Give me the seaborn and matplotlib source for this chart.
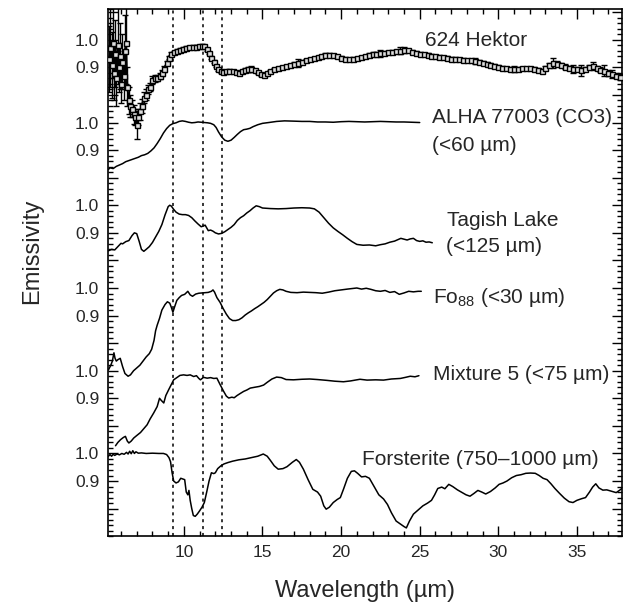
import matplotlib
matplotlib.use("Agg")
import matplotlib.pyplot as plt
from matplotlib.ticker import FixedLocator, FixedFormatter, MultipleLocator
import seaborn as sns

# 624 Hektor (telescope spectrum, 1-sigma error bars)
hektor_wl = [5.25, 5.32, 5.40, 5.47, 5.55, 5.62, 5.70, 5.78, 5.85, 5.93,
             6.00, 6.08, 6.16, 6.24, 6.32, 6.40, 6.50, 6.60, 6.70, 6.80,
             6.90, 7.00, 7.10, 7.20, 7.32, 7.45, 7.58, 7.70, 7.85, 8.00,
             8.15, 8.30, 8.45, 8.60, 8.75, 8.90, 9.05, 9.20, 9.35, 9.55,
             9.75, 9.95, 10.15, 10.35, 10.55, 10.75, 10.95, 11.15, 11.30, 11.45,
             11.60, 11.75, 11.90, 12.05, 12.20, 12.35, 12.50, 12.70, 12.90, 13.10,
             13.30, 13.50, 13.70, 13.90, 14.10, 14.30, 14.50, 14.70, 14.90, 15.10,
             15.30, 15.50, 15.75, 16.00, 16.25, 16.50, 16.75, 17.00, 17.25, 17.50,
             17.75, 18.00, 18.25, 18.50, 18.75, 19.00, 19.25, 19.50, 19.75, 20.00,
             20.25, 20.50, 20.75, 21.00, 21.25, 21.50, 21.75, 22.00, 22.25, 22.50,
             22.75, 23.00, 23.25, 23.50, 23.75, 24.00, 24.25, 24.50, 24.75, 25.00,
             25.25, 25.50, 25.75, 26.00, 26.25, 26.50, 26.75, 27.00, 27.25, 27.50,
             27.75, 28.00, 28.25, 28.50, 28.75, 29.00, 29.25, 29.50, 29.75, 30.00,
             30.25, 30.50, 30.75, 31.00, 31.25, 31.50, 31.75, 32.00, 32.25, 32.50,
             32.75, 33.00, 33.25, 33.50, 33.75, 34.00, 34.25, 34.50, 34.75, 35.00,
             35.25, 35.50, 35.75, 36.00, 36.25, 36.50, 36.75, 37.00, 37.25, 37.50,
             37.75]
hektor_em = [0.930, 0.970, 0.910, 0.990, 0.880, 0.950, 0.860, 0.980, 0.900, 0.940,
             0.840, 0.920, 0.870, 0.960, 0.990, 0.830, 0.780, 0.760, 0.750, 0.730,
             0.720, 0.690, 0.720, 0.740, 0.760, 0.790, 0.800, 0.820, 0.830, 0.855,
             0.860, 0.862, 0.868, 0.880, 0.895, 0.915, 0.935, 0.950, 0.955, 0.960,
             0.964, 0.968, 0.972, 0.974, 0.975, 0.975, 0.977, 0.979, 0.976, 0.966,
             0.952, 0.935, 0.920, 0.905, 0.893, 0.886, 0.884, 0.886, 0.888, 0.887,
             0.883, 0.880, 0.886, 0.892, 0.893, 0.894, 0.889, 0.882, 0.875, 0.872,
             0.878, 0.886, 0.893, 0.897, 0.900, 0.904, 0.908, 0.913, 0.916, 0.920,
             0.925, 0.929, 0.933, 0.937, 0.941, 0.944, 0.946, 0.944, 0.940, 0.935,
             0.931, 0.929, 0.931, 0.934, 0.938, 0.941, 0.945, 0.948, 0.950, 0.951,
             0.953, 0.955, 0.957, 0.958, 0.961, 0.963, 0.962, 0.957, 0.953, 0.950,
             0.947, 0.945, 0.942, 0.940, 0.938, 0.936, 0.934, 0.932, 0.931, 0.929,
             0.928, 0.926, 0.925, 0.923, 0.921, 0.917, 0.913, 0.909, 0.905, 0.902,
             0.899, 0.897, 0.895, 0.894, 0.895, 0.896, 0.897, 0.897, 0.895, 0.892,
             0.888, 0.897, 0.908, 0.915, 0.914, 0.908, 0.903, 0.897, 0.893, 0.894,
             0.890, 0.895, 0.902, 0.904, 0.898, 0.892, 0.888, 0.880, 0.876, 0.870,
             0.866]
hektor_err = [0.12, 0.14, 0.12, 0.13, 0.10, 0.12, 0.10, 0.14, 0.09, 0.12,
              0.07, 0.10, 0.09, 0.13, 0.15, 0.07, 0.05, 0.04, 0.03, 0.035,
              0.03, 0.05, 0.03, 0.03, 0.025, 0.02, 0.02, 0.015, 0.015, 0.015,
              0.012, 0.012, 0.010, 0.010, 0.010, 0.008, 0.006, 0.006, 0.005, 0.005,
              0.005, 0.005, 0.005, 0.005, 0.005, 0.005, 0.005, 0.005, 0.005, 0.005,
              0.005, 0.005, 0.005, 0.005, 0.005, 0.005, 0.005, 0.005, 0.005, 0.005,
              0.005, 0.005, 0.005, 0.005, 0.008, 0.012, 0.006, 0.005, 0.005, 0.005,
              0.005, 0.005, 0.005, 0.005, 0.005, 0.005, 0.005, 0.006, 0.015, 0.006,
              0.005, 0.005, 0.005, 0.005, 0.005, 0.008, 0.005, 0.005, 0.005, 0.005,
              0.005, 0.005, 0.005, 0.005, 0.005, 0.005, 0.006, 0.006, 0.006, 0.012,
              0.006, 0.006, 0.006, 0.006, 0.012, 0.012, 0.006, 0.006, 0.006, 0.006,
              0.006, 0.006, 0.006, 0.006, 0.006, 0.006, 0.006, 0.006, 0.006, 0.006,
              0.006, 0.006, 0.006, 0.010, 0.006, 0.006, 0.006, 0.006, 0.006, 0.006,
              0.006, 0.006, 0.006, 0.010, 0.006, 0.006, 0.006, 0.006, 0.006, 0.006,
              0.006, 0.008, 0.008, 0.018, 0.008, 0.008, 0.008, 0.008, 0.015, 0.008,
              0.020, 0.008, 0.008, 0.015, 0.008, 0.008, 0.020, 0.010, 0.015, 0.010,
              0.010]

# ALHA 77003 (CO3), <60 um
alha_wl = [5.2, 5.3, 5.5, 5.7, 5.9, 6.1, 6.3, 6.5, 6.7, 6.9, 7.1, 7.3, 7.5, 7.7, 7.9,
           8.1, 8.3, 8.5, 8.7, 8.9, 9.1, 9.3, 9.5, 9.7, 9.9, 10.1, 10.3, 10.5, 10.7,
           10.9, 11.1, 11.3, 11.5, 11.7, 11.9, 12.05, 12.2, 12.4, 12.6, 12.8, 13.0,
           13.2, 13.4, 13.6, 13.8, 14.0, 14.2, 14.4, 14.7, 15.0, 15.4, 15.9, 16.4,
           17.0, 17.5, 18.0, 18.5, 19.0, 19.5, 20.0, 20.5, 21.0, 21.5, 22.0, 22.5,
           23.0, 23.5, 24.0, 24.5, 25.0]
alha_em = [0.830, 0.836, 0.833, 0.841, 0.846, 0.851, 0.858, 0.862, 0.866, 0.870, 0.874,
           0.880, 0.883, 0.888, 0.897, 0.908, 0.924, 0.942, 0.962, 0.978, 0.990,
           0.996, 0.999, 1.004, 1.006, 1.004, 1.001, 0.999, 1.000, 1.002, 1.001,
           1.000, 0.999, 0.997, 0.992, 0.982, 0.966, 0.948, 0.936, 0.932, 0.936,
           0.946, 0.957, 0.967, 0.974, 0.976, 0.979, 0.985, 0.992, 0.997, 1.000,
           1.004, 1.006, 1.005, 1.004, 1.004, 1.002, 1.002, 1.001, 1.003, 1.004,
           1.003, 1.002, 1.003, 1.004, 1.003, 1.002, 1.002, 1.001, 1.000]

# Tagish Lake, <125 um
tagish_wl = [5.2, 5.4, 5.6, 5.8, 6.0, 6.1, 6.3, 6.5, 6.7, 6.85, 7.0, 7.15, 7.3,
             7.45, 7.6, 7.8, 8.0, 8.2, 8.4, 8.6, 8.8, 9.0, 9.1, 9.2, 9.35, 9.5,
             9.7, 9.9, 10.1, 10.3, 10.5, 10.7, 10.9, 11.1, 11.25, 11.35, 11.45,
             11.55, 11.7, 11.85, 12.0, 12.2, 12.4, 12.6, 12.8, 13.0, 13.2, 13.4,
             13.6, 13.8, 14.0, 14.2, 14.4, 14.6, 14.8, 15.0, 15.5, 16.0, 16.5, 17.0,
             17.5, 18.0, 18.3, 18.6, 18.9, 19.2, 19.5, 19.8, 20.1, 20.4, 20.7, 21.0,
             21.4, 21.8, 22.2, 22.5, 22.8, 23.1, 23.4, 23.6, 23.8, 24.0, 24.2, 24.4,
             24.6, 24.8, 25.0, 25.2, 25.4, 25.6, 25.8]
tagish_em = [0.835, 0.840, 0.838, 0.850, 0.862, 0.860, 0.868, 0.872, 0.890, 0.900,
             0.897, 0.870, 0.840, 0.833, 0.840, 0.850, 0.865, 0.885, 0.905, 0.930,
             0.965, 0.995, 1.000, 0.997, 0.985, 0.975, 0.968, 0.966, 0.966, 0.963,
             0.955, 0.943, 0.932, 0.922, 0.925, 0.928, 0.918, 0.908, 0.910, 0.906,
             0.900, 0.896, 0.898, 0.904, 0.912, 0.920, 0.930, 0.945, 0.955, 0.962,
             0.972, 0.980, 0.990, 0.998, 0.995, 0.990, 0.988, 0.987, 0.988, 0.990,
             0.991, 0.990, 0.987, 0.975, 0.955, 0.935, 0.918, 0.905, 0.893, 0.880,
             0.868, 0.858, 0.855, 0.856, 0.853, 0.857, 0.860, 0.866, 0.870, 0.875,
             0.880, 0.877, 0.874, 0.878, 0.880, 0.872, 0.869, 0.871, 0.866, 0.867,
             0.864]

# Fo88, <30 um
fo88_wl = [5.2, 5.35, 5.45, 5.55, 5.62, 5.7, 5.8, 5.95, 6.1, 6.25, 6.45, 6.6, 6.8,
           7.0, 7.2, 7.4, 7.6, 7.8, 7.95, 8.1, 8.2, 8.3, 8.45, 8.6, 8.8, 8.95, 9.1,
           9.2, 9.3, 9.4, 9.55, 9.7, 9.85, 10.05, 10.25, 10.4, 10.55, 10.75, 10.95,
           11.15, 11.35, 11.55, 11.75, 11.85, 11.95, 12.1, 12.3, 12.5, 12.7, 12.9,
           13.1, 13.3, 13.5, 13.7, 13.9, 14.1, 14.3, 14.5, 14.7, 14.9, 15.1, 15.3,
           15.5, 15.7, 15.9, 16.1, 16.3, 16.5, 16.8, 17.2, 17.6, 18.0, 18.4, 18.8,
           19.2, 19.6, 20.0, 20.4, 20.7, 21.0, 21.3, 21.6, 21.9, 22.2, 22.5, 22.8,
           23.1, 23.4, 23.7, 24.0, 24.3, 24.6, 24.9, 25.1]
fo88_em = [0.703, 0.720, 0.735, 0.765, 0.745, 0.735, 0.740, 0.745, 0.715, 0.690,
           0.680, 0.685, 0.700, 0.710, 0.720, 0.735, 0.750, 0.762, 0.778, 0.810,
           0.845, 0.865, 0.890, 0.920, 0.940, 0.950, 0.945, 0.930, 0.912, 0.930,
           0.955, 0.965, 0.973, 0.977, 0.988, 0.975, 0.970, 0.978, 0.981, 0.982,
           0.983, 0.984, 0.988, 0.993, 0.985, 0.965, 0.948, 0.925, 0.905, 0.889,
           0.882, 0.882, 0.885, 0.892, 0.902, 0.910, 0.917, 0.925, 0.932, 0.940,
           0.948, 0.958, 0.970, 0.982, 0.990, 0.995, 0.993, 0.988, 0.984, 0.983,
           0.985, 0.984, 0.983, 0.981, 0.985, 0.990, 0.993, 0.996, 0.998, 1.000,
           0.996, 0.999, 0.995, 0.990, 0.988, 0.991, 0.984, 0.987, 0.977, 0.982,
           0.988, 0.986, 0.988, 0.988]

# Mixture 5, <75 um
mix5_wl = [5.65, 5.8, 5.97, 6.15, 6.28, 6.4, 6.5, 6.65, 6.81, 7.0, 7.24, 7.45,
           7.66, 7.85, 8.08, 8.3, 8.45, 8.55, 8.72, 8.85, 9.03, 9.2, 9.35, 9.55,
           9.75, 9.98, 10.2, 10.4, 10.62, 10.8, 10.95, 11.05, 11.25, 11.48, 11.7,
           11.9, 12.1, 12.3, 12.53, 12.7, 12.85, 13.05, 13.2, 13.38, 13.6, 13.8,
           14.0, 14.22, 14.5, 14.8, 15.07, 15.3, 15.6, 15.9, 16.2, 16.5, 16.97,
           17.5, 18.0, 18.5, 19.1, 19.6, 20.15, 20.6, 21.2, 21.65, 22.2, 22.7, 23.2,
           23.77, 24.1, 24.4, 24.7, 24.95]
mix5_em = [0.728, 0.740, 0.750, 0.758, 0.762, 0.745, 0.738, 0.745, 0.756, 0.765,
           0.776, 0.790, 0.804, 0.825, 0.847, 0.870, 0.900, 0.893, 0.883, 0.910,
           0.931, 0.950, 0.967, 0.975, 0.983, 0.985, 0.983, 0.985, 0.979, 0.982,
           0.972, 0.967, 0.976, 0.973, 0.975, 0.972, 0.973, 0.950, 0.925, 0.908,
           0.901, 0.904, 0.902, 0.910, 0.918, 0.925, 0.930, 0.937, 0.940, 0.943,
           0.948, 0.958, 0.970, 0.977, 0.975, 0.968, 0.967, 0.969, 0.970, 0.968,
           0.965, 0.962, 0.960, 0.963, 0.969, 0.966, 0.967, 0.966, 0.970, 0.972,
           0.976, 0.980, 0.978, 0.982]

# Forsterite, 750-1000 um
forst_wl = [5.2, 5.3, 5.4, 5.5, 5.6, 5.75, 5.9, 6.05, 6.2, 6.35, 6.45, 6.55, 6.65,
            6.75, 6.85, 6.95, 7.1, 7.3, 7.6, 8.0, 8.4, 8.7, 8.9, 9.05, 9.15, 9.25,
            9.35, 9.5, 9.65, 9.8, 9.95, 10.05, 10.15, 10.25, 10.32, 10.4, 10.5, 10.6,
            10.72, 10.85, 11.0, 11.15, 11.3, 11.45, 11.6, 11.75, 11.9, 12.0, 12.15,
            12.35, 12.55, 12.8, 13.1, 13.5, 13.9, 14.3, 14.7, 15.05, 15.3, 15.5,
            15.75, 16.0, 16.3, 16.56, 16.9, 17.15, 17.35, 17.6, 17.9, 18.2, 18.5,
            18.7, 18.9, 19.05, 19.25, 19.5, 19.75, 19.95, 20.15, 20.4, 20.65, 20.85,
            21.05, 21.3, 21.55, 21.8, 22.1, 22.4, 22.7, 22.95, 23.2, 23.5, 23.75,
            24.0, 24.15, 24.35, 24.6, 24.9, 25.2, 25.5, 25.75, 25.95, 26.15, 26.4,
            26.6, 26.85, 27.1, 27.4, 27.7, 27.95, 28.2, 28.45, 28.7, 28.95, 29.2,
            29.5, 29.8, 30.05, 30.3, 30.55, 30.85, 31.15, 31.45, 31.75, 32.05, 32.35,
            32.6, 32.85, 33.1, 33.35, 33.6, 33.9, 34.2, 34.5, 34.75, 35.0, 35.3,
            35.55, 35.8, 36.0, 36.2, 36.4, 36.65, 36.9, 37.2, 37.5, 37.75, 37.9]
forst_em = [0.990, 0.996, 0.990, 0.997, 0.993, 0.998, 0.995, 1.000, 0.997, 1.004,
            0.998, 1.008, 0.999, 1.010, 1.000, 1.006, 1.001, 1.002, 1.000, 1.001,
            1.000, 1.000, 0.996, 0.985, 0.970, 0.930, 0.900, 0.893, 0.897, 0.910,
            0.907, 0.905, 0.860, 0.850, 0.866, 0.830, 0.800, 0.775, 0.772, 0.780,
            0.792, 0.805, 0.822, 0.860, 0.900, 0.930, 0.927, 0.930, 0.945, 0.955,
            0.962, 0.967, 0.972, 0.977, 0.980, 0.985, 0.990, 0.998, 0.990, 0.975,
            0.955, 0.943, 0.945, 0.952, 0.968, 0.978, 0.968, 0.943, 0.905, 0.870,
            0.860, 0.845, 0.810, 0.798, 0.805, 0.822, 0.833, 0.840, 0.870, 0.910,
            0.935, 0.937, 0.928, 0.915, 0.917, 0.910, 0.880, 0.850, 0.835, 0.815,
            0.785, 0.755, 0.745, 0.735, 0.730, 0.755, 0.780, 0.795, 0.810, 0.820,
            0.830, 0.850, 0.873, 0.878, 0.872, 0.888, 0.880, 0.868, 0.858, 0.850,
            0.845, 0.855, 0.866, 0.860, 0.853, 0.862, 0.875, 0.888, 0.893, 0.900,
            0.912, 0.920, 0.923, 0.928, 0.929, 0.928, 0.920, 0.910, 0.905, 0.890,
            0.873, 0.855, 0.838, 0.825, 0.822, 0.830, 0.836, 0.840, 0.860, 0.878,
            0.890, 0.875, 0.867, 0.868, 0.863, 0.858, 0.868, 0.875]

# vertical offsets of the stacked spectra (top to bottom)
offsets = [1.5, 1.2, 0.9, 0.6, 0.3, 0.0]
band_centers = [9.3, 11.2, 12.4]

sns.set_theme(style="ticks")
plt.rcParams['font.family'] = ['Liberation Sans', 'DejaVu Sans']
plt.rcParams['mathtext.fontset'] = 'custom'
plt.rcParams['mathtext.rm'] = 'Liberation Sans'
plt.rcParams['mathtext.default'] = 'regular'

fig = plt.figure(figsize=(6.37, 6.10), dpi=100)
ax = fig.add_axes([0.169, 0.121, 0.807, 0.8635])

# dotted lines marking band positions
for xc in band_centers:
    ax.axvline(xc, color='black', lw=1.1, ls=(0, (2.0, 2.5)), zorder=1)

# Hektor with error bars
hek_y = [e + offsets[0] for e in hektor_em]
ax.errorbar(hektor_wl, hek_y, yerr=hektor_err, fmt='s-', ms=3.6, mfc='#dddddd',
            mec='black', mew=1.0, color='black', lw=1.4, elinewidth=1.0,
            capsize=2.0, capthick=1.0, zorder=3)

lab_spectra = [(alha_wl, alha_em), (tagish_wl, tagish_em), (fo88_wl, fo88_em),
               (mix5_wl, mix5_em), (forst_wl, forst_em)]
for (wl, em), off in zip(lab_spectra, offsets[1:]):
    sns.lineplot(x=wl, y=[e + off for e in em], ax=ax, color='black', lw=1.1,
                 estimator=None, sort=False, zorder=2)

# spectrum labels
fs = 15
ax.text(25.34, 2.477, '624 Hektor', fontsize=fs)
ax.text(25.77, 2.200, 'ALHA 77003 (CO3)', fontsize=fs)
ax.text(25.77, 2.097, '(<60 µm)', fontsize=fs)
ax.text(26.72, 1.823, 'Tagish Lake', fontsize=fs)
ax.text(26.68, 1.732, '(<125 µm)', fontsize=fs)
ax.text(25.83, 1.544, 'Fo$_{88}$ (<30 µm)', fontsize=fs)
ax.text(25.85, 1.266, 'Mixture 5 (<75 µm)', fontsize=fs)
ax.text(21.32, 0.959, 'Forsterite (750–1000 µm)', fontsize=fs)

ax.set_xlim(5.15, 37.85)
ax.set_ylim(0.70, 2.61)

# y ticks: 0.9 and 1.0 labelled for each spectrum
ypos = [round(0.8 + 0.1 * i, 2) for i in range(19)]
named = {}
for off in offsets:
    named[round(off + 0.9, 2)] = '0.9'
    named[round(off + 1.0, 2)] = '1.0'
ax.yaxis.set_major_locator(FixedLocator(ypos))
ax.yaxis.set_major_formatter(FixedFormatter([named.get(p, '') for p in ypos]))
ax.yaxis.set_minor_locator(MultipleLocator(0.02))
ax.xaxis.set_major_locator(MultipleLocator(5))
ax.xaxis.set_minor_locator(MultipleLocator(1))

ax.tick_params(which='both', direction='in', top=True, right=True,
               color='black', labelsize=12.5, pad=6, width=1.0)
ax.tick_params(which='major', length=7)
ax.tick_params(which='minor', length=3.5)
for sp in ax.spines.values():
    sp.set_linewidth(1.2)
    sp.set_color('black')

ax.set_xlabel('Wavelength (µm)', fontsize=17)
ax.set_ylabel('Emissivity', fontsize=17)
ax.xaxis.set_label_coords(0.5, -0.083)
ax.yaxis.set_label_coords(-0.125, 0.54)

fig.savefig('out.png', dpi=100)
